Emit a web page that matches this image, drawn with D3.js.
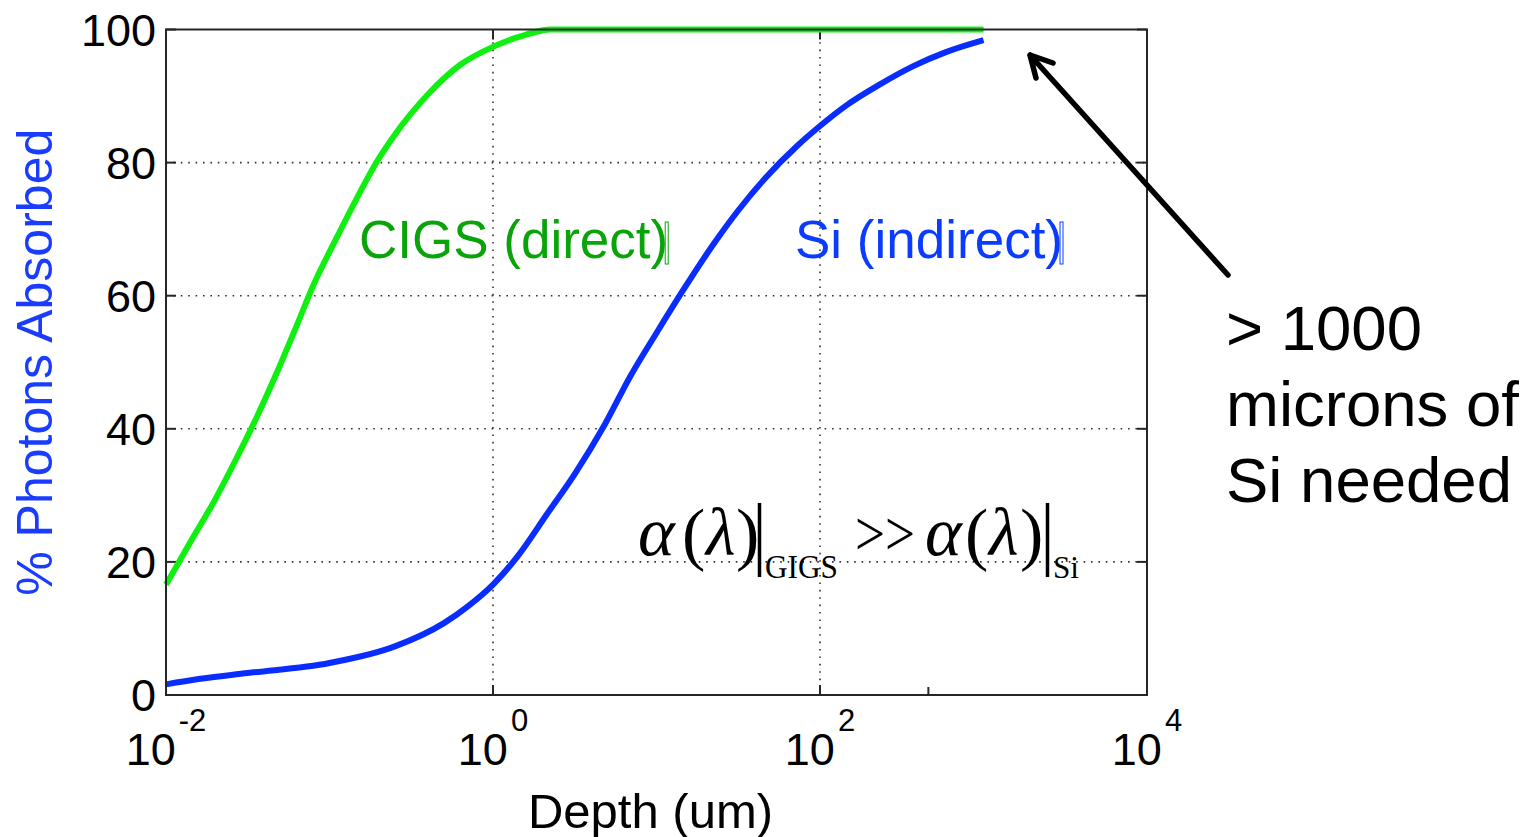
<!DOCTYPE html>
<html>
<head>
<meta charset="utf-8">
<script src="https://cdn.jsdelivr.net/npm/d3@7"></script>
<style>
  body { margin: 0; background: #fff; }
  svg { display: block; }
</style>
</head>
<body>
<div id="viz-container"></div>
<script>
// depth in um, % photons absorbed
const cigsDepth = [0.01, 0.0141, 0.02, 0.0269, 0.0355, 0.0468, 0.063, 0.0794, 0.107, 0.151, 0.191, 0.251, 0.398, 0.631, 1.0, 1.58, 2.24, 1000];
const cigsAbs   = [16.6, 23.0, 29.4, 35.5, 41.5, 48.0, 55.5, 61.5, 68.0, 75.2, 79.8, 84.2, 90.2, 94.7, 97.4, 99.2, 100, 100];

const siDepth = [0.01, 0.0158, 0.0316, 0.1, 0.251, 0.501, 0.708, 1, 1.41, 2.14, 3.16, 4.79, 6.92, 10, 14.1, 22.4, 31.6, 46.8, 72.4, 100, 145, 234, 372, 589, 1000];
const siAbs   = [1.6, 2.4, 3.3, 4.8, 7.3, 10.8, 13.4, 16.6, 20.8, 27.2, 33.2, 40.5, 47.9, 54.4, 60.3, 67.8, 72.8, 77.8, 82.5, 85.5, 88.6, 91.8, 94.5, 96.6, 98.4];

const xTicks = [1e-2, 1e0, 1e2, 1e4];
const xTickExp = ["-2", "0", "2", "4"];
const xMinorTicks = [460];
const yTicks = [0, 20, 40, 60, 80, 100];

const width = 1540, height = 837;
const margin = { left: 166, right: 393, top: 29.5, bottom: 142 };

const svg = d3.select("#viz-container").append("svg")
    .attr("width", width)
    .attr("height", height);

const x = d3.scaleLog()
    .domain([1e-2, 1e4])
    .range([margin.left, width - margin.right]);
const y = d3.scaleLinear()
    .domain([0, 100])
    .range([height - margin.bottom, margin.top]);

const x0 = x.range()[0], x1 = x.range()[1];
const y0 = y.range()[0], y1 = y.range()[1];
const axisColor = "#262626";
const font = "'Liberation Sans', Arial, Helvetica, sans-serif";

// dotted grid
svg.append("g")
    .selectAll("line")
    .data(yTicks.filter(d => d > 0 && d < 100))
    .join("line")
    .attr("x1", x0).attr("x2", x1)
    .attr("y1", d => y(d)).attr("y2", d => y(d))
    .attr("stroke", "#333")
    .attr("stroke-width", 1.6)
    .attr("stroke-dasharray", "1.6,5.8");
svg.append("g")
    .selectAll("line")
    .data(xTicks.slice(1, -1))
    .join("line")
    .attr("x1", d => x(d)).attr("x2", d => x(d))
    .attr("y1", y0).attr("y2", y1)
    .attr("stroke", "#333")
    .attr("stroke-width", 1.6)
    .attr("stroke-dasharray", "1.6,5.8");

// ticks, inward on all four sides
const tickLen = 10;
svg.append("g")
    .selectAll("line")
    .data(yTicks)
    .join("line")
    .attr("x1", x0).attr("x2", x0 + tickLen)
    .attr("y1", d => y(d)).attr("y2", d => y(d))
    .attr("stroke", axisColor).attr("stroke-width", 2);
svg.append("g")
    .selectAll("line")
    .data(yTicks)
    .join("line")
    .attr("x1", x1).attr("x2", x1 - tickLen)
    .attr("y1", d => y(d)).attr("y2", d => y(d))
    .attr("stroke", axisColor).attr("stroke-width", 2);
svg.append("g")
    .selectAll("line")
    .data(xTicks)
    .join("line")
    .attr("x1", d => x(d)).attr("x2", d => x(d))
    .attr("y1", y0).attr("y2", y0 - tickLen)
    .attr("stroke", axisColor).attr("stroke-width", 2);
svg.append("g")
    .selectAll("line")
    .data(xTicks)
    .join("line")
    .attr("x1", d => x(d)).attr("x2", d => x(d))
    .attr("y1", y1).attr("y2", y1 + tickLen)
    .attr("stroke", axisColor).attr("stroke-width", 2);
svg.append("g")
    .selectAll("line")
    .data(xMinorTicks)
    .join("line")
    .attr("x1", d => x(d)).attr("x2", d => x(d))
    .attr("y1", y0).attr("y2", y0 - 8)
    .attr("stroke", axisColor).attr("stroke-width", 2);

// curves
const line = d3.line()
    .x(d => x(d[0]))
    .y(d => y(d[1]))
    .curve(d3.curveMonotoneX);

svg.append("path")
    .datum(cigsDepth.map((d, i) => [d, cigsAbs[i]]))
    .attr("fill", "none")
    .attr("stroke", "#10f010")
    .attr("stroke-width", 6)
    .attr("d", line);

svg.append("path")
    .datum(siDepth.map((d, i) => [d, siAbs[i]]))
    .attr("fill", "none")
    .attr("stroke", "#0a2dff")
    .attr("stroke-width", 6)
    .attr("d", line);

// box
svg.append("rect")
    .attr("x", x0).attr("y", y1)
    .attr("width", x1 - x0).attr("height", y0 - y1)
    .attr("fill", "none")
    .attr("stroke", axisColor)
    .attr("stroke-width", 2);

// tick labels
svg.append("g")
    .selectAll("text")
    .data(yTicks)
    .join("text")
    .attr("x", x0 - 10)
    .attr("y", d => y(d) + 16)
    .attr("text-anchor", "end")
    .attr("font-family", font)
    .attr("font-size", 45)
    .attr("fill", "#000")
    .text(d => d);

const xl = svg.append("g")
    .selectAll("text")
    .data(xTicks)
    .join("text")
    .attr("x", d => x(d))
    .attr("y", y0 + 70)
    .attr("text-anchor", "middle")
    .attr("font-family", font)
    .attr("font-size", 45)
    .attr("fill", "#000");
xl.append("tspan").text("10");
xl.append("tspan")
    .attr("dy", -34)
    .attr("dx", 3)
    .attr("font-size", 31)
    .text((d, i) => xTickExp[i]);

// axis labels
svg.append("text")
    .attr("x", (x0 + x1) / 2 - 6)
    .attr("y", 828)
    .attr("text-anchor", "middle")
    .attr("font-family", font)
    .attr("font-size", 49)
    .attr("fill", "#000")
    .text("Depth (um)");

svg.append("text")
    .attr("transform", `translate(52,${(y0 + y1) / 2}) rotate(-90)`)
    .attr("text-anchor", "middle")
    .attr("font-family", font)
    .attr("font-size", 50)
    .attr("fill", "#1a3cff")
    .text("% Photons Absorbed");

// curve labels
function curveLabel(tx, ty, str, color) {
    const t = svg.append("text")
        .attr("x", tx).attr("y", ty)
        .attr("font-family", font)
        .attr("font-size", 53)
        .attr("fill", color)
        .text(str);
    const w = t.node().getComputedTextLength();
    // the little box glyph left after the closing parenthesis
    svg.append("rect")
        .attr("x", tx + w - 3).attr("y", ty - 36)
        .attr("width", 3).attr("height", 42)
        .attr("fill", "none")
        .attr("stroke", color)
        .attr("stroke-width", 1);
}
curveLabel(359, 258, "CIGS (direct)", "#0aa30a");
curveLabel(795, 258, "Si (indirect)", "#0a3cff");

// alpha(lambda) relation, one text element built from placed pieces
const serif = "'Liberation Serif', 'Times New Roman', serif";
const eqPieces = [
    { x: 638, y: 555, s: "\u03b1", size: 70, it: true },
    { x: 682, y: 557, s: "(", size: 70 },
    { x: 706, y: 555, s: "\u03bb", size: 68, it: true },
    { x: 736, y: 557, s: ")", size: 70 },
    { x: 765, y: 578, s: "GIGS", size: 34, len: 73 },
    { x: 855, y: 555, s: ">>", size: 64, len: 60 },
    { x: 925, y: 555, s: "\u03b1", size: 70, it: true },
    { x: 965, y: 557, s: "(", size: 70 },
    { x: 989, y: 555, s: "\u03bb", size: 68, it: true },
    { x: 1020, y: 557, s: ")", size: 70 },
    { x: 1053, y: 578, s: "Si", size: 32, len: 26 }
];
const eq = svg.append("text")
    .attr("font-family", serif)
    .attr("fill", "#000");
eqPieces.forEach(p => {
    const t = eq.append("tspan")
        .attr("x", p.x).attr("y", p.y)
        .attr("font-size", p.size)
        .attr("font-style", p.it ? "italic" : "normal")
        .text(p.s);
    if (p.len) t.attr("textLength", p.len).attr("lengthAdjust", "spacingAndGlyphs");
});
[759.5, 1047.5].forEach(bx => {
    svg.append("line")
        .attr("x1", bx).attr("x2", bx)
        .attr("y1", 503).attr("y2", 577)
        .attr("stroke", "#000")
        .attr("stroke-width", 3.5);
});

// arrow and note on the right
svg.append("path")
    .attr("d", "M1228,275 L1030,55 M1053,63 L1030,55 L1036,78")
    .attr("fill", "none")
    .attr("stroke", "#000")
    .attr("stroke-width", 5.5)
    .attr("stroke-linecap", "round")
    .attr("stroke-linejoin", "round");

const note = ["> 1000", "microns of", "Si needed"];
svg.append("g")
    .selectAll("text")
    .data(note)
    .join("text")
    .attr("x", 1226)
    .attr("y", (d, i) => 350 + i * 76)
    .attr("font-family", font)
    .attr("font-size", 63.5)
    .attr("fill", "#000")
    .text(d => d);
</script>
</body>
</html>
